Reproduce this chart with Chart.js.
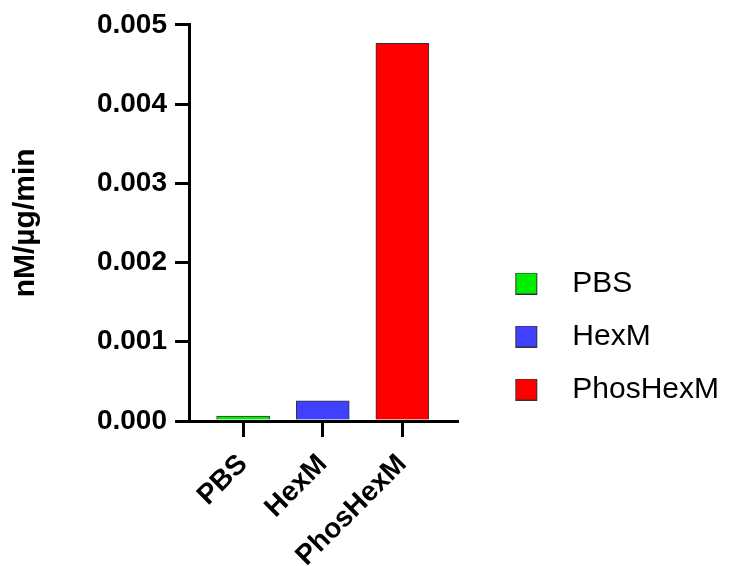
<!DOCTYPE html>
<html>
<head>
<meta charset="utf-8">
<script src="https://cdn.jsdelivr.net/npm/chart.js@4"></script>
<style>
  body { margin: 0; background: #fff; }
  #wrap { position: relative; width: 731px; height: 566px; }
</style>
</head>
<body>
<div id="wrap"><canvas id="activity-chart"></canvas></div>
<script>
const groups = ["PBS", "HexM", "PhosHexM"];
const activity = [0.000063, 0.000256, 0.004765];
const groupColors = ["#00ee00", "#4040ff", "#ff0000"];
const yMin = 0;
const yMax = 0.005;
const yStep = 0.001;
const yTitle = "nM/\u00b5g/min";

const fontFamily = "'Liberation Sans', Arial, Helvetica, sans-serif";

// legend swatch: square with empty room on its left so the legend sits apart from the axis
function swatch(color) {
  const c = document.createElement("canvas");
  c.width = 77;
  c.height = 22;
  const ctx = c.getContext("2d");
  ctx.fillStyle = color;
  ctx.fillRect(35.5, 0.5, 21, 21);
  ctx.strokeStyle = "#333";
  ctx.lineWidth = 1;
  ctx.strokeRect(35.5, 0.5, 21, 21);
  return c;
}

const datasets = groups.map((name, i) => ({
  label: name,
  data: [{ x: i, y: activity[i] }],
  backgroundColor: groupColors[i],
  borderColor: "#333",
  borderWidth: 1,
  barThickness: 53,
  grouped: false,
  pointStyle: swatch(groupColors[i]),
}));

new Chart(document.getElementById("activity-chart"), {
  type: "bar",
  data: { datasets: datasets },
  options: {
    responsive: true,
    maintainAspectRatio: false,
    animation: false,
    layout: { padding: { top: 7, right: 2, bottom: 0, left: 0 } },
    plugins: {
      tooltip: { enabled: false },
      legend: {
        position: "right",
        align: "center",
        maxWidth: 300,
        title: { display: true, text: "", padding: { top: 94, bottom: 0 }, font: { size: 5 } },
        labels: {
          usePointStyle: true,
          pointStyleWidth: 77,
          padding: 23,
          color: "#000",
          font: { family: fontFamily, size: 30 },
        },
      },
    },
    scales: {
      x: {
        type: "linear",
        min: -0.68,
        max: 2.69,
        offset: false,
        afterBuildTicks: (scale) => {
          scale.ticks = groups.map((_, i) => ({ value: i }));
        },
        afterFit: (scale) => {
          scale.height = 145;
        },
        ticks: {
          autoSkip: false,
          minRotation: 45,
          maxRotation: 45,
          padding: 11,
          color: "#000",
          font: { family: fontFamily, size: 28, weight: "bold" },
          callback: (v) => groups[v],
        },
        grid: { offset: false, drawOnChartArea: false, tickLength: 16, lineWidth: 3, color: "#000" },
        border: { display: true, width: 3, color: "#000" },
      },
      y: {
        min: yMin,
        max: yMax,
        afterFit: (scale) => {
          scale.width = 189;
        },
        ticks: {
          stepSize: yStep,
          padding: 8,
          color: "#000",
          font: { family: fontFamily, size: 28, weight: "bold" },
          callback: (v) => v.toFixed(3),
        },
        grid: { drawOnChartArea: false, tickLength: 14, lineWidth: 3, color: "#000" },
        border: { display: true, width: 3, color: "#000" },
        title: {
          display: true,
          text: yTitle,
          color: "#000",
          padding: { top: 8, bottom: 10 },
          font: { family: fontFamily, size: 30, weight: "bold" },
        },
      },
    },
  },
});
</script>
</body>
</html>
